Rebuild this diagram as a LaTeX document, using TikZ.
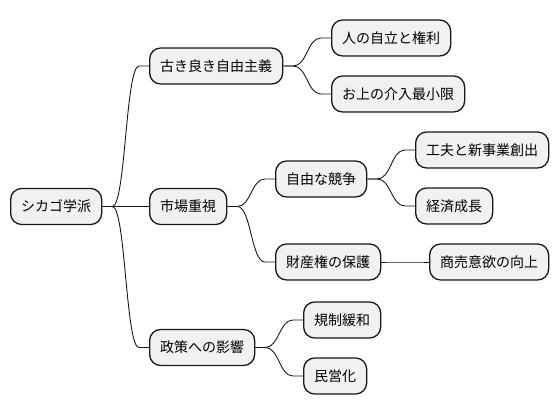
\documentclass[tikz,border=0pt]{standalone}
\usepackage{fontspec}
\setmainfont{Noto Sans CJK JP}
\usetikzlibrary{calc}
\definecolor{boxfill}{HTML}{F1F1F1}
\definecolor{boxline}{HTML}{181818}
\tikzset{
  mmnode/.style={draw=boxline, fill=boxfill, line width=1.3pt, rounded corners=11pt,
    minimum height=36pt, inner xsep=10.5pt, inner ysep=0pt, anchor=west,
    font=\fontsize{14pt}{16pt}\selectfont, text=black},
  branch/.style={draw=boxline, line width=0.9pt, to path={
    let \p1=(\tikztostart), \p2=(\tikztotarget) in
    -- (\x1+10pt,\y1) .. controls (\x1/2+\x2/2,\y1) and (\x1/2+\x2/2,\y2) .. (\x2-10pt,\y2) -- (\tikztotarget)}}
}
\begin{document}
\begin{tikzpicture}[x=1pt,y=-1pt]
\useasboundingbox (0,0) rectangle (558,415);
\node[mmnode] (root) at (10,206.5) {シカゴ学派};
\node[mmnode] (kofuru) at (149,66) {古き良き自由主義};
\node[mmnode] (shijo) at (149,206.5) {市場重視};
\node[mmnode] (seisaku) at (149,347.5) {政策への影響};
\node[mmnode] (jiritsu) at (331,38) {人の自立と権利};
\node[mmnode] (okami) at (331,94) {お上の介入最小限};
\node[mmnode] (kyoso) at (275,179) {自由な競争};
\node[mmnode] (zaisan) at (275,262) {財産権の保護};
\node[mmnode] (kufu) at (415,150) {工夫と新事業創出};
\node[mmnode] (seicho) at (415,206) {経済成長};
\node[mmnode] (iyoku) at (429,262) {商売意欲の向上};
\node[mmnode] (kisei) at (303,320) {規制緩和};
\node[mmnode] (mineika) at (303,376) {民営化};
\path[branch] (root.east) to (kofuru.west);
\path[branch] (root.east) to (shijo.west);
\path[branch] (root.east) to (seisaku.west);
\path[branch] (kofuru.east) to (jiritsu.west);
\path[branch] (kofuru.east) to (okami.west);
\path[branch] (shijo.east) to (kyoso.west);
\path[branch] (shijo.east) to (zaisan.west);
\path[branch] (kyoso.east) to (kufu.west);
\path[branch] (kyoso.east) to (seicho.west);
\path[branch] (zaisan.east) to (iyoku.west);
\path[branch] (seisaku.east) to (kisei.west);
\path[branch] (seisaku.east) to (mineika.west);
\end{tikzpicture}
\end{document}
